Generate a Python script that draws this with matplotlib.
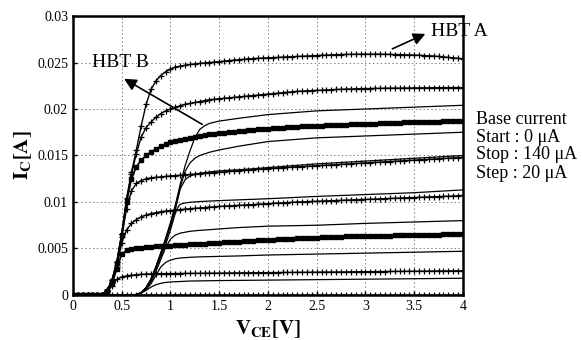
import matplotlib
matplotlib.use('Agg')
import numpy as np
import matplotlib.pyplot as plt

plt.rcParams['font.family'] = ['Liberation Serif', 'DejaVu Serif']
plt.rcParams['mathtext.fontset'] = 'stix'

# sweep of V_CE for HBT A (V), 0.05 V steps
vce_a = np.arange(81) * 0.05

# HBT A collector currents (mA), base current 0..140 uA
ia_0 = [0.0] * 81
ia_20 = [0, 0, 0, 0, 0, 0, 0.03, 0.3, 1.0, 1.7,
         1.95, 2.05, 2.12, 2.18, 2.22, 2.25, 2.27, 2.28, 2.29, 2.3,
         2.3, 2.31, 2.31, 2.32, 2.32, 2.33, 2.33, 2.34, 2.34, 2.35,
         2.35, 2.36, 2.36, 2.37, 2.37, 2.38, 2.38, 2.39, 2.39, 2.4,
         2.4, 2.41, 2.41, 2.42, 2.42, 2.43, 2.43, 2.44, 2.44, 2.45,
         2.45, 2.46, 2.46, 2.47, 2.47, 2.48, 2.48, 2.49, 2.49, 2.5,
         2.5, 2.51, 2.51, 2.52, 2.52, 2.53, 2.53, 2.54, 2.54, 2.55,
         2.55, 2.56, 2.56, 2.57, 2.57, 2.58, 2.58, 2.59, 2.59, 2.6,
         2.6]
ia_40 = [0, 0, 0, 0, 0, 0, 0.04, 0.35, 1.2, 2.8,
         4.4, 4.8, 4.95, 5.05, 5.1, 5.15, 5.2, 5.23, 5.26, 5.29,
         5.32, 5.35, 5.38, 5.41, 5.44, 5.47, 5.5, 5.53, 5.56, 5.59,
         5.62, 5.65, 5.68, 5.71, 5.74, 5.77, 5.8, 5.83, 5.86, 5.89,
         5.92, 5.95, 5.98, 6.01, 6.04, 6.07, 6.1, 6.12, 6.14, 6.16,
         6.18, 6.2, 6.22, 6.24, 6.26, 6.28, 6.3, 6.31, 6.32, 6.33,
         6.34, 6.35, 6.36, 6.37, 6.38, 6.39, 6.4, 6.41, 6.42, 6.43,
         6.44, 6.45, 6.46, 6.47, 6.48, 6.5, 6.52, 6.54, 6.56, 6.58,
         6.6]
ia_60 = [0, 0, 0, 0, 0, 0, 0.04, 0.4, 1.3, 3.0,
         5.6, 7.0, 7.7, 8.1, 8.4, 8.6, 8.75, 8.85, 8.95, 9.02,
         9.08, 9.13, 9.18, 9.23, 9.28, 9.32, 9.36, 9.40, 9.44, 9.48,
         9.52, 9.55, 9.58, 9.61, 9.64, 9.67, 9.70, 9.73, 9.76, 9.79,
         9.82, 9.85, 9.88, 9.91, 9.94, 9.97, 10.0, 10.02, 10.04, 10.06,
         10.08, 10.1, 10.12, 10.14, 10.16, 10.18, 10.2, 10.22, 10.24, 10.26,
         10.28, 10.3, 10.32, 10.34, 10.36, 10.38, 10.4, 10.42, 10.44, 10.46,
         10.48, 10.5, 10.52, 10.54, 10.56, 10.58, 10.6, 10.62, 10.64, 10.67,
         10.7]
ia_80 = [0, 0, 0, 0, 0, 0, 0.04, 0.4, 1.4, 3.2,
         6.2, 9.3, 11.2, 12.0, 12.3, 12.5, 12.6, 12.65, 12.7, 12.75,
         12.8, 12.84, 12.88, 12.92, 12.96, 13.0, 13.04, 13.08, 13.12, 13.16,
         13.2, 13.24, 13.28, 13.32, 13.36, 13.4, 13.44, 13.48, 13.52, 13.56,
         13.6, 13.63, 13.66, 13.69, 13.72, 13.75, 13.78, 13.81, 13.84, 13.87,
         13.9, 13.93, 13.96, 13.99, 14.02, 14.05, 14.08, 14.11, 14.14, 14.17,
         14.2, 14.23, 14.26, 14.29, 14.32, 14.35, 14.38, 14.41, 14.44, 14.47,
         14.5, 14.53, 14.56, 14.59, 14.62, 14.65, 14.68, 14.71, 14.74, 14.77,
         14.8]
ia_100 = [0, 0, 0, 0, 0, 0, 0.05, 0.45, 1.5, 3.4,
          6.4, 10.0, 12.5, 13.8, 14.5, 15.0, 15.4, 15.7, 16.0, 16.2,
          16.4, 16.55, 16.7, 16.8, 16.9, 17.0, 17.1, 17.2, 17.3, 17.35,
          17.4, 17.45, 17.5, 17.55, 17.6, 17.65, 17.7, 17.75, 17.8, 17.85,
          17.9, 17.93, 17.96, 18.0, 18.03, 18.06, 18.1, 18.12, 18.15, 18.17,
          18.2, 18.22, 18.24, 18.26, 18.28, 18.3, 18.32, 18.34, 18.36, 18.38,
          18.4, 18.42, 18.44, 18.46, 18.48, 18.5, 18.52, 18.54, 18.56, 18.57,
          18.58, 18.6, 18.61, 18.62, 18.64, 18.65, 18.66, 18.67, 18.68, 18.69,
          18.7]
ia_120 = [0, 0, 0, 0, 0, 0, 0.05, 0.5, 1.6, 3.6,
          6.6, 10.3, 13.0, 15.2, 17.0, 18.0, 18.6, 19.1, 19.5, 19.8,
          20.0, 20.2, 20.35, 20.5, 20.6, 20.7, 20.8, 20.9, 21.0, 21.05,
          21.1, 21.15, 21.2, 21.25, 21.3, 21.35, 21.4, 21.45, 21.5, 21.55,
          21.6, 21.65, 21.7, 21.75, 21.8, 21.85, 21.9, 21.92, 21.95, 21.98,
          22.0, 22.02, 22.05, 22.07, 22.1, 22.12, 22.14, 22.15, 22.17, 22.18,
          22.2, 22.2, 22.22, 22.22, 22.24, 22.24, 22.25, 22.25, 22.26, 22.26,
          22.27, 22.27, 22.28, 22.28, 22.29, 22.29, 22.3, 22.3, 22.3, 22.3,
          22.3]
ia_140 = [0, 0, 0, 0, 0, 0, 0.05, 0.5, 1.6, 3.6,
          6.6, 10.4, 13.2, 15.6, 18.2, 20.5, 22.1, 23.0, 23.6, 24.0,
          24.3, 24.5, 24.6, 24.7, 24.8, 24.85, 24.9, 24.95, 25.0, 25.05,
          25.1, 25.15, 25.2, 25.25, 25.3, 25.35, 25.4, 25.42, 25.45, 25.48,
          25.5, 25.52, 25.55, 25.58, 25.6, 25.62, 25.65, 25.68, 25.7, 25.72,
          25.75, 25.78, 25.8, 25.82, 25.84, 25.86, 25.87, 25.88, 25.89, 25.9,
          25.9, 25.9, 25.9, 25.9, 25.88, 25.87, 25.86, 25.85, 25.83, 25.82,
          25.8, 25.78, 25.75, 25.72, 25.7, 25.65, 25.6, 25.55, 25.5, 25.45,
          25.4]

hbt_a = [ia_0, ia_20, ia_40, ia_60, ia_80, ia_100, ia_120, ia_140]
marker_a = ['+', '+', 's', '+', '+', 's', '+', '+']

# HBT B curves (V, mA), thin lines
vb_0 = [0, 4.0]
ib_0 = [0, 0]
vb_20 = [0, 0.6, 0.65, 0.7, 0.75, 0.8, 0.85, 0.9, 0.95, 1.0, 1.1, 1.2, 1.5, 2.0, 2.5, 3.0, 3.5, 4.0]
ib_20 = [0, 0, 0.05, 0.2, 0.5, 0.85, 1.1, 1.25, 1.35, 1.4, 1.45, 1.5, 1.55, 1.6, 1.65, 1.7, 1.75, 1.8]
vb_40 = [0, 0.6, 0.65, 0.7, 0.75, 0.8, 0.85, 0.9, 0.95, 1.0, 1.05, 1.1, 1.2, 1.3, 1.5, 1.7, 2.0, 2.5, 3.0, 3.5, 4.0]
ib_40 = [0, 0, 0.05, 0.2, 0.6, 1.2, 2.1, 3.0, 3.5, 3.75, 3.9, 3.98, 4.05, 4.1, 4.15, 4.2, 4.3, 4.4, 4.5, 4.6, 4.7]
vb_60 = [0, 0.6, 0.65, 0.7, 0.75, 0.8, 0.85, 0.9, 0.95, 1.0, 1.05, 1.1, 1.2, 1.3, 1.5, 1.7, 2.0, 2.5, 3.0, 3.5, 4.0]
ib_60 = [0, 0, 0.05, 0.25, 0.7, 1.4, 2.5, 3.8, 5.1, 6.0, 6.45, 6.65, 6.85, 6.95, 7.1, 7.25, 7.4, 7.5, 7.7, 7.85, 8.0]
vb_80 = [0, 0.6, 0.65, 0.7, 0.75, 0.8, 0.85, 0.9, 0.95, 1.0, 1.05, 1.08, 1.1, 1.15, 1.2, 1.3, 1.5, 2.0, 2.5, 3.0, 3.5, 4.0]
ib_80 = [0, 0, 0.05, 0.25, 0.75, 1.6, 2.8, 4.1, 5.4, 7.0, 8.8, 9.5, 9.75, 9.9, 9.97, 10.05, 10.15, 10.35, 10.6, 10.8, 11.0, 11.3]
vb_100 = [0, 0.6, 0.65, 0.7, 0.75, 0.8, 0.85, 0.9, 0.95, 1.0, 1.05, 1.1, 1.15, 1.2, 1.3, 1.5, 1.75, 2.0, 2.5, 3.0, 3.5, 4.0]
ib_100 = [0, 0, 0.05, 0.25, 0.8, 1.7, 3.0, 4.4, 5.8, 7.4, 9.2, 11.4, 12.4, 12.8, 13.1, 13.35, 13.5, 13.7, 14.1, 14.4, 14.7, 15.0]
vb_120 = [0, 0.6, 0.65, 0.7, 0.75, 0.8, 0.85, 0.9, 0.95, 1.0, 1.05, 1.1, 1.15, 1.2, 1.25, 1.3, 1.4, 1.5, 1.7, 2.0, 2.5, 3.0, 3.5, 4.0]
ib_120 = [0, 0, 0.05, 0.25, 0.8, 1.7, 3.0, 4.5, 6.0, 7.6, 9.4, 11.6, 13.3, 14.2, 14.7, 15.0, 15.35, 15.6, 16.0, 16.5, 16.9, 17.1, 17.3, 17.5]
vb_140 = [0, 0.6, 0.65, 0.7, 0.75, 0.8, 0.85, 0.9, 0.95, 1.0, 1.05, 1.1, 1.15, 1.2, 1.25, 1.3, 1.35, 1.4, 1.5, 1.7, 2.0, 2.5, 3.0, 3.5, 4.0]
ib_140 = [0, 0, 0.05, 0.25, 0.8, 1.7, 3.0, 4.5, 6.1, 7.8, 9.7, 11.9, 13.9, 15.5, 16.9, 17.8, 18.2, 18.45, 18.7, 19.0, 19.4, 19.8, 20.0, 20.2, 20.4]

hbt_b = [(vb_0, ib_0), (vb_20, ib_20), (vb_40, ib_40), (vb_60, ib_60),
         (vb_80, ib_80), (vb_100, ib_100), (vb_120, ib_120), (vb_140, ib_140)]

x_ticks = [0, 0.5, 1, 1.5, 2, 2.5, 3, 3.5, 4]
x_labels = ['0', '0.5', '1', '1.5', '2', '2.5', '3', '3.5', '4']
y_ticks = [0, 0.005, 0.01, 0.015, 0.02, 0.025, 0.03]
y_labels = ['0', '0.005', '0.01', '0.015', '0.02', '0.025', '0.03']

fig = plt.figure(figsize=(5.82, 3.4), dpi=100)
ax = fig.add_axes([0.1254, 0.1324, 0.6701, 0.8205])

for v, i in hbt_b:
    ax.plot(v, np.array(i) / 1000, color='black', lw=0.9, zorder=2)

for i, m in zip(hbt_a, marker_a):
    if m == 's':
        ax.plot(vce_a, np.array(i) / 1000, color='black', lw=1.2, marker='s',
                ms=2.6, zorder=3)
    else:
        ax.plot(vce_a, np.array(i) / 1000, color='black', lw=1.0, marker='+',
                ms=4, mew=0.9, zorder=3)

ax.set_xlim(0, 4)
ax.set_ylim(0, 0.03)
ax.set_xticks(x_ticks)
ax.set_xticklabels(x_labels)
ax.set_yticks(y_ticks)
ax.set_yticklabels(y_labels)
ax.tick_params(direction='in', length=3, labelsize=10, width=1)
ax.grid(True, color='gray', ls=(0, (1.5, 2.5)), lw=0.7)
for s in ax.spines.values():
    s.set_linewidth(1.8)

ax.set_xlabel(r'$\mathbf{V_{CE}[V]}$', fontsize=15, labelpad=4)
ax.set_ylabel(r'$\mathbf{I_{C}[A]}$', fontsize=15, labelpad=2)

# labels and arrows
ax.text(3.67, 0.0283, 'HBT A', fontsize=14, va='center', ha='left')
ax.annotate('', xy=(3.64, 0.0282), xytext=(3.25, 0.02635),
            arrowprops=dict(arrowstyle='-|>', color='black', lw=1.2,
                            mutation_scale=18), annotation_clip=False)
ax.text(0.19, 0.0250, 'HBT B', fontsize=14, va='center', ha='left')
ax.annotate('', xy=(0.50, 0.0234), xytext=(1.35, 0.0182),
            arrowprops=dict(arrowstyle='-|>', color='black', lw=1.2,
                            mutation_scale=18))

info = ['Base current', 'Start : 0 \u03bcA', 'Stop : 140 \u03bcA', 'Step : 20 \u03bcA']
for k, line in enumerate(info):
    fig.text(476 / 582, 1 - (119 + 18 * k) / 340, line, fontsize=13,
             va='center', ha='left')

fig.savefig('out.png', dpi=100)
